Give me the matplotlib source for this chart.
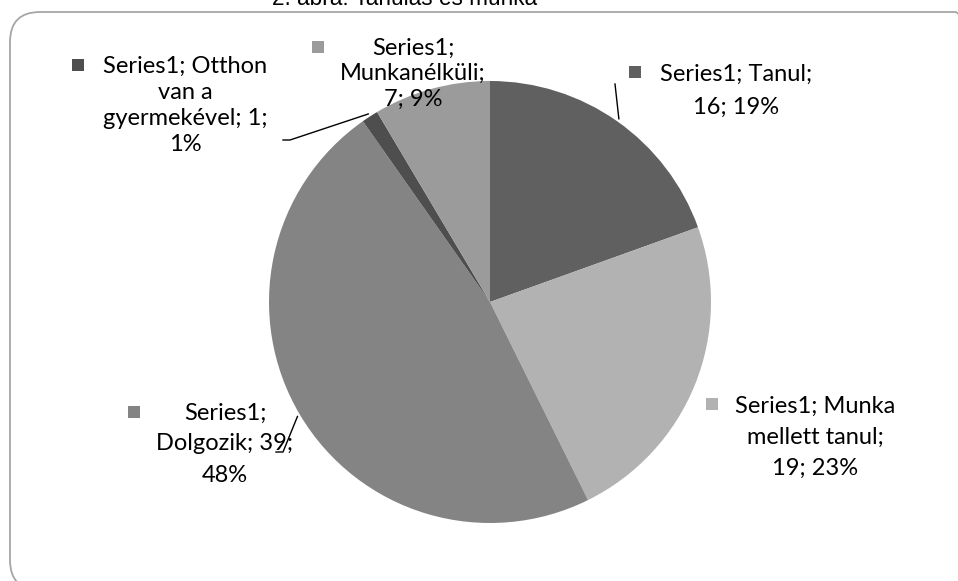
import numpy as np
import matplotlib
matplotlib.use("Agg")
import matplotlib.pyplot as plt
from matplotlib.patches import FancyBboxPatch, Rectangle

W, H = 958, 581

# data, clockwise from 12 o'clock
categories = ["Tanul", "Munka mellett tanul", "Dolgozik", "Otthon van a gyermekével", "Munkanélküli"]
values = [16, 19, 39, 1, 7]
percents = ["19%", "23%", "48%", "1%", "9%"]
series_name = "Series1"
colors = ["#606060", "#b2b2b2", "#848484", "#4e4e4e", "#9b9b9b"]

# label texts as excel wrapped them
label_lines = [
    "Series1; Tanul;\n16; 19%",
    "Series1; Munka\nmellett tanul;\n19; 23%",
    "Series1;\nDolgozik; 39;\n48%",
    "Series1; Otthon\nvan a\ngyermekével; 1;\n1%",
    "Series1;\nMunkanélküli;\n7; 9%",
]
# (text center x, first line y, line step, key x, key y) in pixels from the top-left
label_pos = [
    (736, 74, 33, 635, 72),
    (815, 406, 31, 712, 404),
    (225, 413, 31, 134, 412),
    (185, 66, 26.3, 78, 65),
    (413, 48, 25.5, 318, 47),
]
# leader lines: elbow point and short tail end (pixels), None = no line
leaders = [
    ((615, 84), None),
    None,
    ((283, 452), (276, 452)),
    ((290, 140), (283, 140)),
    None,
]

cx, cy, r = 490, 302, 221


def fy(y):
    return H - y


fig = plt.figure(figsize=(W / 100, H / 100), dpi=100)
ax = fig.add_axes([0, 0, 1, 1])

wedges, _ = ax.pie(values, colors=colors, startangle=90, counterclock=False,
                   center=(cx, fy(cy)), radius=r, frame=True,
                   wedgeprops=dict(linewidth=0))
ax.set_xlim(0, W)
ax.set_ylim(0, H)
ax.set_aspect("equal")
ax.axis("off")

# chart area border in figure pixels (runs off right and bottom)
x0, y0, x1, y1 = 10, 12, 985, 590
box = FancyBboxPatch((x0, fy(y1)), x1 - x0, y1 - y0,
                     boxstyle="round,pad=0,rounding_size=30",
                     fc="none", ec="#a6a6a6", lw=1.3, transform=None)
fig.add_artist(box)

label_font = ["Lato", "DejaVu Sans"]
for i, txt in enumerate(label_lines):
    tx, ty, step, kx, ky = label_pos[i]
    for j, line in enumerate(txt.split("\n")):
        ax.text(tx, fy(ty + j * step), line, ha="center", va="center",
                fontsize=17, family=label_font, color="#000000")
    ax.add_patch(Rectangle((kx - 6, fy(ky) - 6), 12, 12, fc=colors[i], ec="none"))

    if leaders[i] is not None:
        w = wedges[i]
        mid = np.deg2rad((w.theta1 + w.theta2) / 2)
        px = cx + (r + 3) * np.cos(mid)
        py = fy(cy) + (r + 3) * np.sin(mid)
        (ex, ey), tail = leaders[i]
        xs = [px, ex]
        ys = [py, fy(ey)]
        if tail is not None:
            xs.append(tail[0])
            ys.append(fy(tail[1]))
        ax.plot(xs, ys, color="black", lw=1)

ax.text(405, fy(5), "2. ábra: Tanulás és munka", ha="center", va="baseline",
        fontsize=16.3, family=["Liberation Sans", "DejaVu Sans"], color="#000000")

fig.savefig("out.png", dpi=100)
